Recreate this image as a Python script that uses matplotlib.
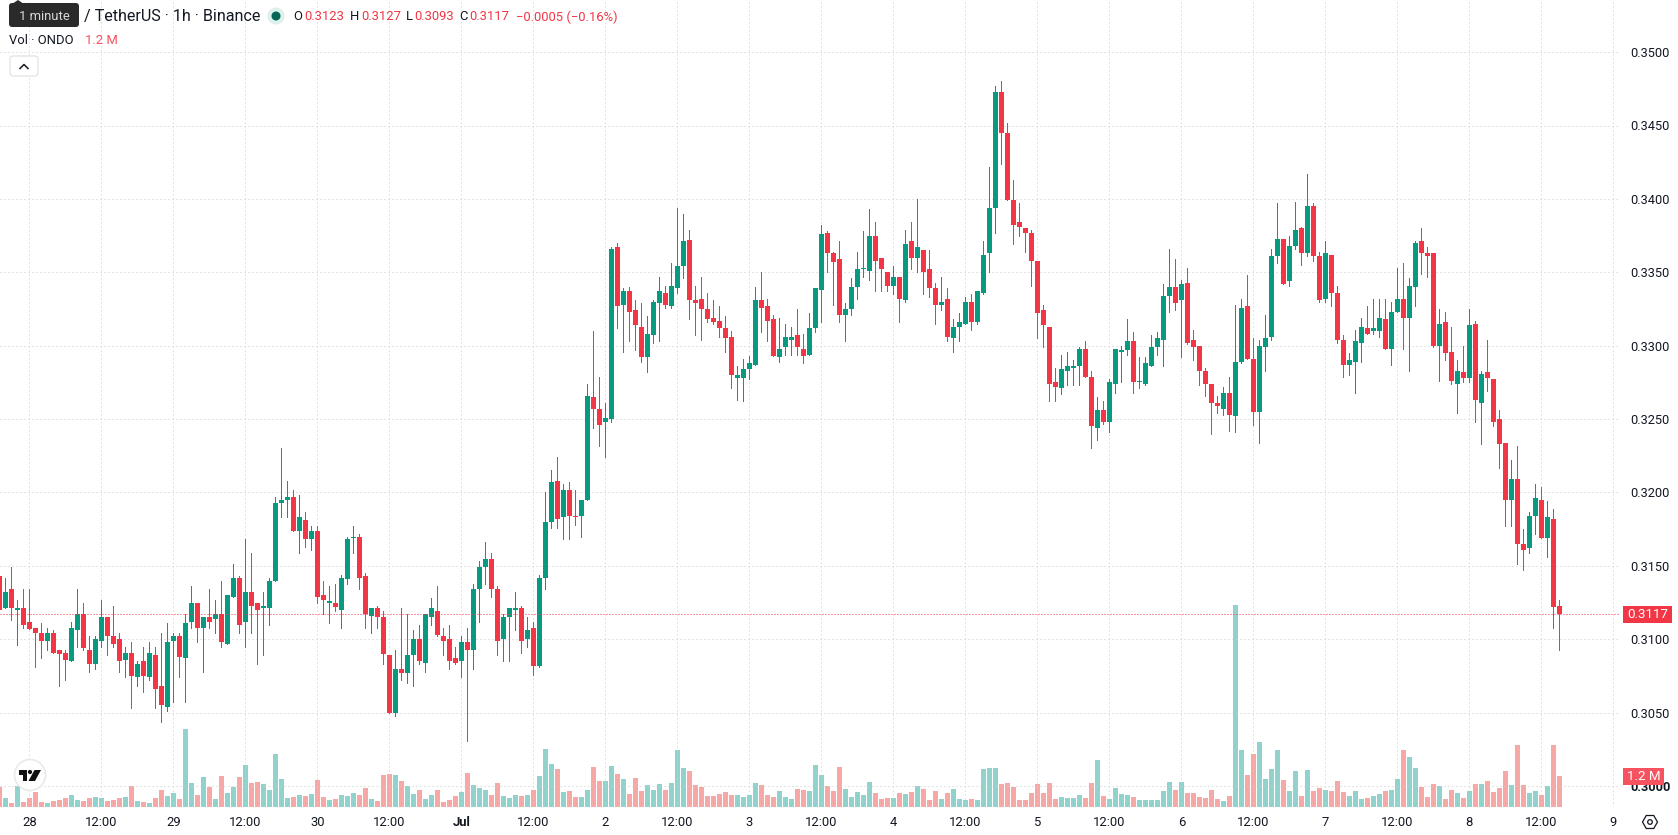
# ONDO / USDT 1h candles with volume, Binance, late June to 8 July
import matplotlib
matplotlib.use('Agg')
import matplotlib.pyplot as plt
import numpy as np
from matplotlib.patches import Circle, FancyBboxPatch, Polygon, Rectangle

# prices are stored in ticks of 0.0001
TICK = 0.0001
opens = [
    3143,3121,3134,3120,3121,3112,3108,3104,3099,3104, 3093,3091,3085,3106,3117,3093,3083,3099,3115,3102,
    3100,3086,3091,3074,3085,3074,3089,3068,3054,3099, 3102,3087,3112,3125,3108,3115,3114,3117,3097,3129,
    3142,3112,3132,3125,3121,3121,3140,3193,3195,3197, 3174,3181,3168,3174,3130,3125,3125,3120,3141,3169,
    3170,3143,3116,3121,3115,3089,3050,3080,3077,3089, 3100,3084,3115,3119,3102,3100,3087,3085,3098,3093,
    3134,3149,3155,3134,3100,3115,3120,3121,3100,3108, 3082,3142,3180,3208,3183,3202,3184,3184,3195,3265,
    3257,3248,3250,3367,3328,3337,3324,3313,3292,3307, 3329,3336,3327,3339,3354,3372,3331,3332,3325,3319,
    3317,3312,3306,3278,3278,3284,3287,3331,3327,3318, 3292,3299,3304,3307,3298,3294,3312,3338,3377,3363,
    3359,3321,3325,3340,3352,3351,3375,3360,3350,3341, 3347,3331,3371,3360,3365,3352,3339,3328,3332,3305,
    3313,3315,3330,3316,3336,3363,3394,3473,3445,3399, 3384,3380,3377,3358,3324,3313,3275,3271,3283,3285,
    3286,3298,3279,3244,3256,3248,3274,3296,3297,3303, 3275,3274,3286,3299,3304,3334,3340,3331,3343,3304,
    3300,3283,3274,3261,3257,3268,3252,3289,3327,3291, 3255,3299,3306,3361,3373,3344,3368,3380,3363,3395,
    3361,3332,3362,3336,3304,3287,3289,3302,3312,3310, 3310,3318,3298,3323,3332,3319,3340,3371,3363,3363,
    3300,3316,3296,3274,3282,3278,3315,3261,3282,3277, 3250,3234,3195,3209,3165,3162,3184,3195,3169,3182,
    3123]
highs = [
    3148,3142,3149,3127,3134,3134,3108,3111,3108,3106, 3093,3093,3112,3134,3125,3102,3102,3127,3115,3123,
    3104,3095,3098,3085,3095,3098,3095,3104,3111,3104, 3104,3117,3136,3125,3115,3134,3127,3140,3130,3151,
    3143,3168,3159,3125,3132,3142,3197,3230,3208,3202, 3198,3187,3177,3177,3140,3136,3138,3144,3170,3177,
    3172,3145,3121,3123,3119,3089,3093,3121,3117,3106, 3110,3117,3128,3136,3108,3110,3095,3102,3108,3138,
    3153,3166,3159,3136,3117,3121,3132,3123,3115,3112, 3144,3200,3215,3224,3206,3207,3202,3195,3274,3310,
    3279,3261,3367,3370,3339,3340,3331,3329,3320,3331, 3347,3341,3356,3394,3390,3379,3341,3347,3336,3331,
    3327,3320,3310,3286,3291,3293,3340,3350,3332,3321, 3319,3315,3313,3325,3308,3322,3339,3382,3378,3364,
    3371,3329,3346,3364,3378,3393,3384,3360,3350,3354, 3347,3379,3384,3400,3365,3365,3343,3347,3339,3318,
    3322,3333,3335,3337,3371,3422,3477,3480,3452,3413, 3397,3380,3379,3358,3328,3313,3285,3294,3296,3290,
    3299,3303,3283,3265,3262,3277,3298,3300,3318,3309, 3292,3292,3307,3309,3342,3366,3359,3345,3353,3311,
    3300,3285,3274,3266,3272,3279,3328,3332,3348,3305, 3304,3321,3366,3397,3373,3375,3398,3381,3417,3397,
    3364,3371,3362,3341,3307,3295,3311,3319,3327,3332, 3332,3332,3330,3353,3356,3346,3371,3380,3367,3363,
    3325,3323,3313,3290,3300,3325,3317,3283,3304,3277, 3256,3234,3222,3232,3175,3187,3206,3204,3194,3189,
    3127]
lows = [
    3118,3121,3113,3096,3108,3107,3081,3087,3093,3091, 3068,3072,3085,3095,3093,3078,3080,3095,3089,3095,
    3078,3074,3053,3068,3064,3072,3053,3044,3051,3057, 3074,3057,3108,3098,3078,3108,3104,3095,3097,3129,
    3104,3095,3104,3083,3089,3110,3140,3183,3183,3174, 3159,3163,3161,3125,3117,3111,3119,3108,3138,3159,
    3134,3108,3104,3108,3083,3050,3048,3072,3070,3068, 3083,3078,3110,3102,3089,3080,3083,3074,3031,3080,
    3112,3138,3129,3089,3085,3085,3106,3091,3095,3076, 3081,3134,3176,3176,3168,3168,3178,3170,3195,3244,
    3232,3224,3248,3312,3296,3303,3297,3289,3282,3302, 3303,3326,3326,3336,3346,3318,3307,3304,3316,3315,
    3306,3296,3271,3263,3262,3277,3287,3309,3303,3293, 3289,3294,3294,3294,3288,3294,3309,3316,3350,3328,
    3316,3303,3321,3332,3347,3345,3337,3337,3337,3335, 3316,3330,3352,3350,3335,3333,3315,3324,3303,3296,
    3303,3315,3311,3315,3335,3350,3377,3424,3399,3369, 3375,3364,3341,3305,3299,3262,3262,3267,3273,3273,
    3273,3279,3230,3236,3247,3241,3268,3275,3294,3268, 3271,3273,3286,3294,3286,3323,3324,3292,3301,3290,
    3273,3266,3240,3254,3253,3242,3241,3288,3291,3246, 3234,3283,3304,3356,3342,3341,3366,3355,3361,3358,
    3330,3330,3327,3302,3279,3280,3268,3289,3308,3308, 3306,3298,3287,3323,3298,3283,3327,3349,3347,3299,
    3276,3290,3274,3254,3275,3275,3248,3233,3269,3245, 3217,3177,3177,3151,3147,3159,3172,3169,3156,3108,
    3093]
closes = [
    3120,3132,3121,3121,3110,3107,3104,3099,3104,3091, 3090,3086,3108,3117,3094,3083,3100,3115,3102,3097,
    3085,3091,3075,3083,3075,3091,3066,3055,3098,3102, 3088,3111,3125,3108,3115,3112,3117,3098,3130,3142,
    3110,3132,3123,3120,3123,3140,3193,3195,3197,3174, 3183,3168,3174,3129,3127,3126,3122,3142,3168,3170,
    3142,3117,3121,3115,3090,3050,3080,3077,3089,3100, 3085,3117,3121,3103,3099,3085,3084,3098,3093,3134,
    3149,3155,3134,3099,3115,3121,3121,3099,3106,3082, 3142,3180,3207,3182,3202,3184,3183,3195,3266,3257,
    3246,3251,3366,3327,3337,3323,3314,3292,3308,3330, 3337,3328,3341,3354,3371,3331,3329,3325,3318,3316,
    3312,3305,3280,3280,3284,3288,3331,3326,3317,3293, 3298,3306,3306,3299,3293,3312,3339,3376,3363,3357,
    3321,3325,3340,3352,3353,3375,3358,3352,3341,3347, 3332,3369,3360,3367,3350,3339,3328,3330,3306,3313,
    3316,3330,3316,3337,3362,3394,3473,3445,3399,3382, 3381,3377,3358,3322,3314,3274,3272,3284,3286,3286,
    3298,3279,3245,3256,3248,3275,3298,3297,3303,3275, 3276,3288,3299,3305,3334,3340,3329,3342,3302,3299,
    3283,3274,3261,3259,3268,3253,3289,3326,3291,3255, 3300,3305,3361,3373,3342,3368,3379,3363,3395,3361,
    3331,3363,3336,3304,3287,3290,3303,3313,3308,3312, 3319,3298,3323,3332,3319,3341,3370,3363,3361,3300,
    3315,3295,3276,3283,3278,3314,3263,3281,3278,3248, 3233,3195,3209,3165,3161,3184,3196,3169,3183,3122,
    3117]
# volume in millions of ONDO
volumes = [
    .79,.35,.16,.81,.19,.35,.58,.19,.16,.23, .27,.35,.47,.27,.23,.35,.39,.35,.23,.27,
    .35,.39,.81,.23,.19,.16,.35,.66,.43,.54, .31,3.02,.93,.47,1.16,.78,.31,1.20,.54,.78,
    1.16,1.63,.93,.97,.89,.66,2.05,1.09,.35,.39, .47,.43,.50,1.05,.39,.27,.31,.47,.43,.54,
    .47,.74,.31,.23,1.24,1.28,1.24,1.01,.81,.50, .66,.31,.47,.66,.19,.27,.43,.58,1.32,.85,
    .74,.66,.47,.93,.43,.35,.47,.43,.47,.66, 1.20,2.25,1.67,1.47,.58,.62,.39,.39,.66,1.55,
    1.01,1.01,1.59,1.28,1.09,.50,1.12,.62,.85,.66, .89,.66,.93,2.21,1.51,1.40,.85,.78,.43,.43,
    .50,.58,.47,.47,.39,.47,.93,.85,.47,.39, .62,.39,.31,.70,.66,.62,1.63,1.24,.81,.62,
    1.55,.70,.39,.58,.47,.97,.54,.31,.35,.35, .54,.50,.58,.81,.70,.27,.62,.31,.54,.70,
    .31,.27,.31,.27,1.47,1.51,1.51,.89,.93,.78, .27,.27,.54,.89,.54,.93,.31,.39,.35,.35,
    .47,.35,.93,1.82,.43,.31,.74,.49,.45,.37, .26,.26,.26,.26,.61,.96,.65,.96,.53,.53,
    .37,.34,.65,.30,.22,.41,7.82,2.20,1.23,2.04, 2.51,1.07,1.46,2.20,1.03,.61,1.38,.41,1.42,.61,
    .72,.65,.61,.99,.57,.41,.61,.30,.34,.41, .49,.61,.65,1.07,2.20,1.93,1.50,.76,.37,.88,
    .80,.30,.65,.53,.34,.61,.88,.88,.99,.57, .72,1.38,.84,2.39,.84,.53,.61,.45,.80,2.39,
    1.2]

time_labels = ['28','12:00','29','12:00','30','12:00','Jul','12:00','2','12:00','3','12:00','4','12:00',
               '5','12:00','6','12:00','7','12:00','8','12:00','9']
first_label_bar = 5      # bar index of 28 June 00:00
price_ticks = [0.3000, 0.3050, 0.3100, 0.3150, 0.3200, 0.3250, 0.3300, 0.3350, 0.3400, 0.3450, 0.3500]
last_price = 0.3117

UP, DOWN = '#089981', '#F23645'
VOL_UP, VOL_DOWN = '#26A69A', '#EF5350'
GRID = '#CBCBCB'
TEXT = '#131722'
FONT = ['Roboto', 'DejaVu Sans']
PX = 72 / 100            # one pixel in points
W, H = 1678, 835
PANE_R, PANE_B = 1620, 807

plt.rcParams['font.family'] = FONT
fig = plt.figure(figsize=(W / 100, H / 100), dpi=100, facecolor='white')
ax = fig.add_axes([0, (H - PANE_B) / H, PANE_R / W, PANE_B / H], zorder=2)
ax.patch.set_alpha(0)
axv = ax.twinx()
axv.set_zorder(1)
axv.patch.set_alpha(0)

o, h, l, c = [np.array(a) * TICK for a in (opens, highs, lows, closes)]
x = np.arange(len(o))
rising = c >= o
cols = np.where(rising, UP, DOWN)

# price scale: 14680 px per 1.0 of price, bar pitch 6 px
ax.set_xlim(0.11, 0.11 + PANE_R / 6)
ax.set_ylim(0.3100 - (PANE_B - 639.3) / 14680, 0.3100 + 639.3 / 14680)
axv.set_ylim(0, PANE_B / 25.8)

# dotted grid
grid_x = first_label_bar + 12 * np.arange(len(time_labels))
dots = dict(color=GRID, lw=PX, ls=(0, (1, 3)), dash_capstyle='butt', zorder=0)
for gx in grid_x:
    ax.axvline(gx, **dots)
for p in price_ticks:
    ax.axhline(p, **dots)

# volume under the candles
axv.bar(x, volumes, width=5 / 6, linewidth=0, alpha=0.5,
        color=np.where(rising, VOL_UP, VOL_DOWN))
axv.set_yticks([])

# candles, wicks kept crisp at one pixel
ax.vlines(x, l, h, colors=cols, lw=PX, antialiased=False, zorder=3)
ax.bar(x, np.abs(c - o), bottom=np.minimum(o, c), width=5 / 6, color=cols, linewidth=0, zorder=4)
ax.axhline(last_price, color=DOWN, lw=PX, ls=(0, (1, 2)), dash_capstyle='butt', zorder=5)

# axes
for a in (ax, axv):
    for s in a.spines.values():
        s.set_visible(False)
ax.yaxis.tick_right()
ax.set_yticks(price_ticks)
ax.set_yticklabels([f'{p:.4f}' for p in price_ticks], fontsize=9.2, color=TEXT, va='center_baseline')
for p, t in zip(price_ticks, ax.get_yticklabels()):
    if round(p * 10000) % 1000 == 0:
        t.set_fontweight('bold')
ax.set_xticks(grid_x)
ax.set_xticklabels(time_labels, fontsize=9.4, color=TEXT)
for t in ax.get_xticklabels():
    if t.get_text() == 'Jul':
        t.set_fontweight('bold')
ax.tick_params(axis='y', length=0, pad=10 * PX)
ax.tick_params(axis='x', length=0, pad=9 * PX)

# chrome layer in pixel coordinates
ui = fig.add_axes([0, 0, 1, 1], zorder=5)
ui.set_xlim(0, W)
ui.set_ylim(H, 0)
ui.axis('off')

def label(px, py, s, color=TEXT, size=9.2, **kw):
    ui.text(px, py, s, color=color, fontsize=size, va='center', **kw)

# header
label(84, 17, '/ TetherUS · 1h · Binance', size=11.6)
ui.add_patch(Circle((276, 16), 8.5, fc='#DDF0EC', ec='none'))
ui.add_patch(Circle((276, 16), 4.5, fc='#056656', ec='none'))
for px, s in [(293, 'O'), (350, 'H'), (406, 'L'), (459, 'C')]:
    label(px, 17, s, size=9.4)
for px, s in [(304, '0.3123'), (361, '0.3127'), (414, '0.3093'), (469, '0.3117'), (516, '−0.0005 (−0.16%)')]:
    label(px, 17, s, color=DOWN, size=9.4)
label(9, 41, 'Vol · ONDO', size=9.4)
label(85, 41, '1.2 M', color='#F7525F', size=9.4)

# tooltip over the symbol name
ui.add_patch(FancyBboxPatch((11, 5), 66, 20, boxstyle='round,pad=2,rounding_size=3', fc='#2A2A2A', ec='none'))
ui.add_patch(Polygon([(12, 4), (18, 0), (24, 4)], fc='#2A2A2A', ec='none'))
label(44, 16, '1 minute', color='#D8D8D8', size=9.4, ha='center')

# collapse button
ui.add_patch(FancyBboxPatch((12, 58), 24, 16, boxstyle='round,pad=2,rounding_size=3', fc='white', ec='#DADCE0', lw=PX))
ui.plot([20, 24, 28], [68.5, 64.5, 68.5], color=TEXT, lw=1.1)

# tags on the price scale
ui.add_patch(Rectangle((1623, 606), 49, 17, fc=DOWN, ec='none'))
label(1647.5, 615, '0.3117', color='white', size=9.6, ha='center')
ui.add_patch(Rectangle((1623, 768), 41, 16.5, fc='#F7525F', ec='none'))
label(1643.5, 777, '1.2 M', color='white', size=9.6, ha='center')

# logo badge
ui.add_patch(Circle((30, 775), 15.5, fc='white', ec='#E8E8E8', lw=1.1))
ui.add_patch(Polygon([(18.5, 770), (27, 770), (27, 781), (23, 781), (23, 774.5), (18.5, 774.5)], fc='#111111', ec='none'))
ui.add_patch(Circle((30, 772), 2.1, fc='#111111', ec='none'))
ui.add_patch(Polygon([(34.5, 770), (41, 770), (35, 781), (28.5, 781)], fc='#111111', ec='none'))

# settings button
ang = np.radians(np.arange(0, 360, 60))
ui.add_patch(Polygon(np.c_[1650 + 7.5 * np.cos(ang), 822 + 7.5 * np.sin(ang)], fc='none', ec=TEXT, lw=0.9))
ui.add_patch(Circle((1650, 822), 2.3, fc='none', ec=TEXT, lw=0.9))

fig.savefig('out.png', dpi=100, facecolor='white')
